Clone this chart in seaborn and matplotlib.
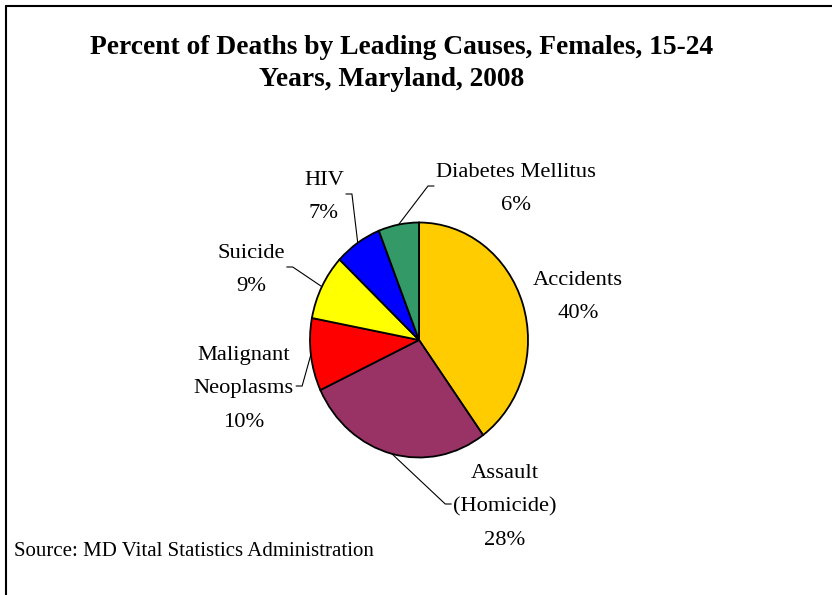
import numpy as np
import matplotlib
matplotlib.use("Agg")
import matplotlib.pyplot as plt
import seaborn as sns
from matplotlib.lines import Line2D

# ---- data ----
causes = ["Accidents", "Assault\n(Homicide)", "Malignant\nNeoplasms", "Suicide", "HIV", "Diabetes Mellitus"]
percents = [40, 28, 10, 9, 7, 6]
colors_hex = ["#FFCC00", "#993366", "#FF0000", "#FFFF00", "#0000FF", "#339966"]
title_lines = ["Percent of Deaths by Leading Causes, Females, 15-24", "Years, Maryland, 2008"]
source_text = "Source: MD Vital Statistics Administration"

# ---- layout (pixels from top-left) ----
W, H = 832, 595
CX, CY, RX, RY = 419, 340, 109, 117.5
label_centers = [(578, 297), (505, 507), (244, 389), (251, 270), (324, 197), (516, 189)]
leader_side = [None, "left", "right", "right", "right", "left"]

sns.set_theme(style="white")
plt.rcParams["font.family"] = ["Liberation Serif", "DejaVu Serif"]

fig = plt.figure(figsize=(W / 100, H / 100), dpi=100)
fig.patch.set_facecolor("white")

ax = fig.add_axes([(CX - RX) / W, (H - CY - RY) / H, 2 * RX / W, 2 * RY / H])
wedges, _ = ax.pie(percents, colors=sns.color_palette(colors_hex), startangle=90,
                   counterclock=False,
                   wedgeprops=dict(edgecolor="black", linewidth=1.3))
for w in wedges:
    w.set_clip_on(False)
ax.set_aspect("auto")
ax.set_xlim(-1, 1)
ax.set_ylim(-1, 1)
ax.axis("off")

def fx(x):
    return x / W

def fy(y):
    return 1 - y / H

texts = []
for i, (c, p) in enumerate(zip(causes, percents)):
    x, y = label_centers[i]
    t = fig.text(fx(x), fy(y), f"{c}\n{p}%", ha="center", va="center",
                 multialignment="center", fontsize=16.2, linespacing=2.03, color="black")
    texts.append(t)

# title
fig.text(fx(402), fy(47), title_lines[0], ha="center", va="center", fontsize=19.8,
         fontweight="bold", color="black")
fig.text(fx(392), fy(80), title_lines[1], ha="center", va="center", fontsize=19.8,
         fontweight="bold", color="black")

fig.text(fx(14), fy(551), source_text, ha="left", va="center", fontsize=15, color="black")

# border (top & left)
fig.add_artist(Line2D([fx(6), fx(6)], [0, fy(6)], color="black", lw=1.5))
fig.add_artist(Line2D([fx(6), 1], [fy(6), fy(6)], color="black", lw=1.5))

# leader lines
fig.canvas.draw()
cum = 0
for i, p in enumerate(percents):
    theta = np.deg2rad(90 - 360 * (cum + p / 2) / 100)
    cum += p
    side = leader_side[i]
    if side is None:
        continue
    ex, ey = ax.transData.transform((np.cos(theta), np.sin(theta)))
    bb = texts[i].get_window_extent()
    ly = (bb.y0 + bb.y1) / 2 + 3
    if side == "right":
        endx = bb.x1 + 2
        elbx = endx + 6
    else:
        endx = bb.x0 - 2
        elbx = endx - 6
    fig.add_artist(Line2D([ex / W, elbx / W, endx / W], [ey / H, ly / H, ly / H],
                          color="black", lw=0.8))

fig.savefig("out.png", dpi=100)
